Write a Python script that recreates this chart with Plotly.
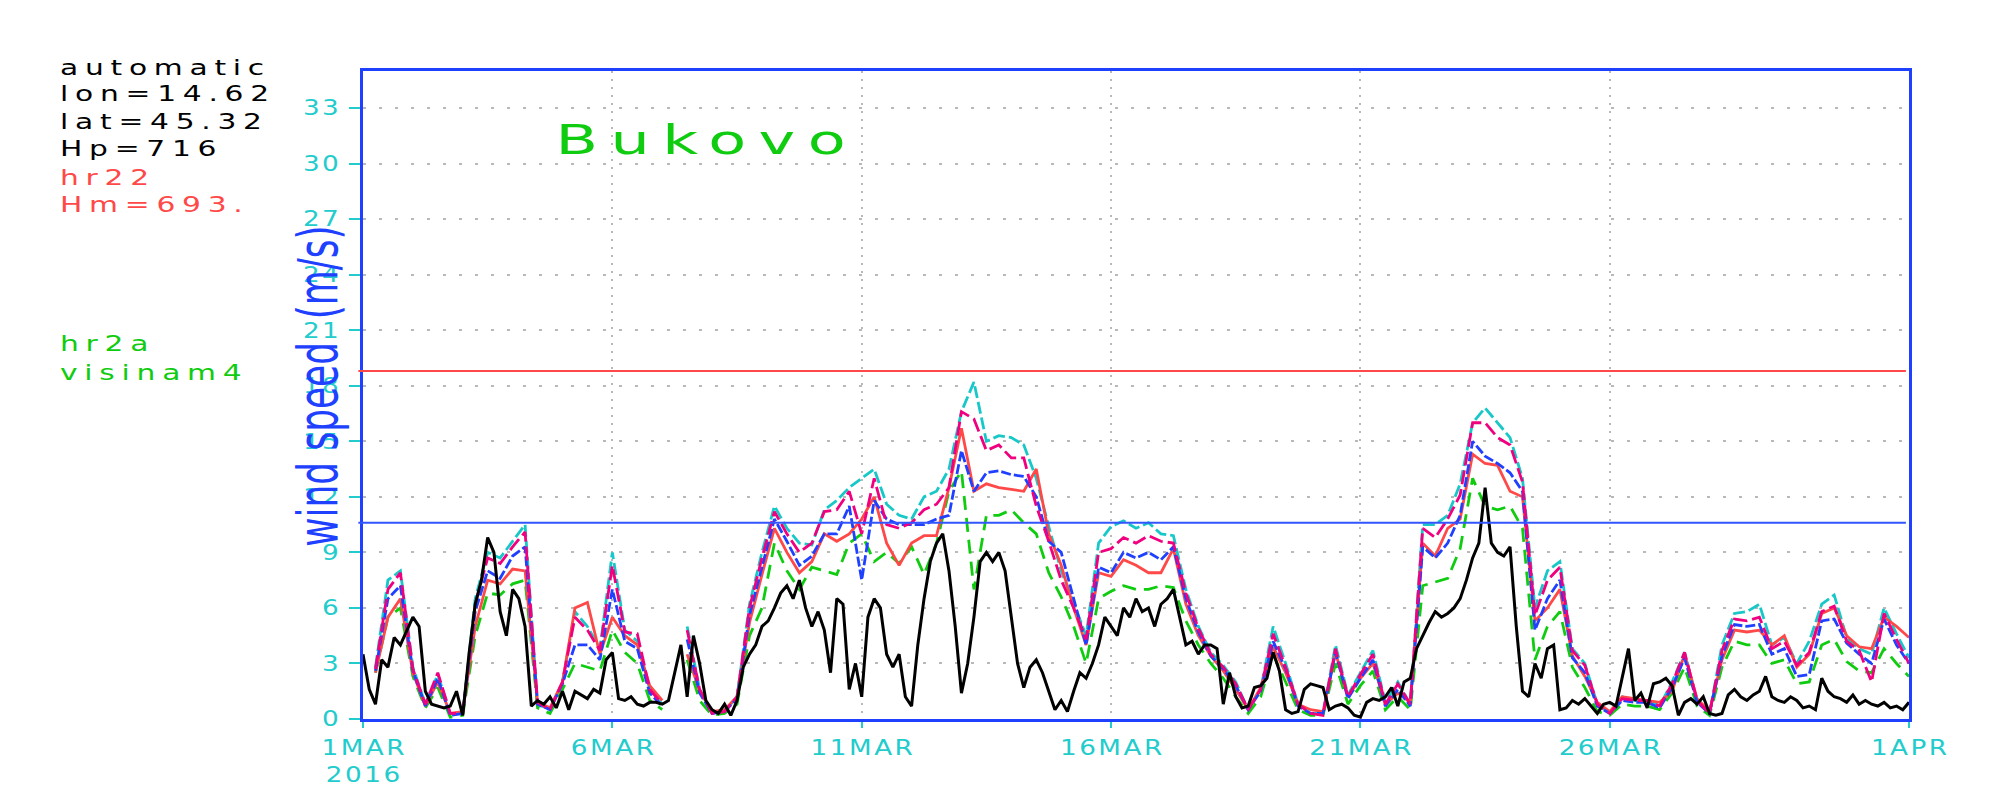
import pandas as pd
import plotly.graph_objects as go

# ---------------- data ----------------
# model series: 6-hourly from 2016-03-01 00:00 (125 points)
model_start = "2016-03-01 00:00"
cyan = [None, 2.8, 7.5, 8.0, 2.8, 0.8, 2.4, 0.3, 0.3, 6.5,
        9.0, 8.7, 9.6, 10.5, 0.8, 0.5, 2.0, 5.8, 5.0, 3.8,
        9.0, 4.8, 4.2, 1.6, 0.8, None, 5.0, 1.6, 0.3, 0.4,
        1.2, 6.2, 9.0, 11.5, 10.3, 9.5, 9.4, 11.3, 11.8, 12.5,
        13.0, 13.5, 11.6, 11.0, 10.8, 12.0, 12.3, 13.5, 16.6, 18.2,
        15.0, 15.3, 15.2, 14.8, 13.0, 10.4, 8.0, 6.2, 4.5, 9.5,
        10.4, 10.7, 10.3, 10.6, 10.0, 9.9, 7.0, 5.0, 3.6, 2.9,
        2.0, 0.5, 1.6, 5.0, 3.0, 0.8, 0.3, 0.3, 4.0, 1.3,
        2.5, 3.7, 0.9, 2.0, 0.8, 10.5, 10.5, 11.0, 12.7, 16.0,
        16.8, 16.0, 15.2, 13.0, 6.0, 8.0, 8.5, 3.8, 3.0, 0.8,
        0.3, 1.2, 1.0, 1.0, 0.7, 2.0, 3.6, 1.0, 0.3, 4.0,
        5.7, 5.8, 6.2, 4.0, 4.4, 3.0, 4.2, 6.2, 6.7, 4.4,
        3.8, 3.5, 6.0, 4.6, 3.3]
pink = [None, 2.7, 7.0, 7.9, 2.7, 0.8, 2.5, 0.3, 0.3, 6.2,
        8.7, 8.4, 9.3, 10.1, 0.9, 0.5, 2.0, 5.5, 4.8, 3.7,
        8.3, 4.7, 4.6, 1.6, 0.8, None, 4.8, 1.6, 0.3, 0.4,
        1.2, 6.0, 8.7, 11.2, 10.0, 9.0, 9.5, 11.2, 11.3, 12.3,
        10.0, 13.0, 10.5, 10.3, 10.6, 11.3, 11.6, 12.5, 16.6, 16.2,
        14.5, 14.8, 14.1, 14.1, 11.5, 9.6, 7.5, 6.0, 4.3, 9.0,
        9.2, 9.8, 9.5, 9.9, 9.6, 9.5, 6.8, 4.9, 3.5, 2.8,
        1.9, 0.5, 1.6, 4.6, 2.8, 0.8, 0.3, 0.2, 3.8, 1.2,
        2.4, 3.5, 0.8, 1.9, 0.8, 10.3, 9.8, 10.8, 12.1, 16.0,
        16.0, 15.2, 14.8, 12.8, 5.6, 7.5, 8.2, 3.7, 2.9, 0.8,
        0.3, 1.1, 1.0, 1.0, 0.7, 1.9, 3.6, 1.0, 0.3, 3.7,
        5.4, 5.3, 5.5, 3.8, 4.2, 2.9, 3.6, 5.8, 6.1, 4.2,
        3.7, 2.0, 5.7, 4.3, 3.0]
blue = [None, 2.6, 6.5, 7.2, 2.6, 0.7, 2.2, 0.2, 0.3, 5.8,
        8.0, 7.6, 8.8, 9.3, 0.8, 0.5, 1.9, 4.0, 4.0, 3.2,
        7.0, 4.2, 3.8, 1.4, 0.7, None, 4.3, 1.4, 0.3, 0.4,
        1.1, 5.6, 8.2, 10.8, 9.6, 8.3, 8.8, 10.0, 10.0, 11.5,
        7.5, 11.8, 10.8, 10.5, 10.5, 10.5, 10.8, 11.0, 14.5, 12.3,
        13.3, 13.4, 13.2, 13.1, 12.0, 9.6, 9.0, 6.5, 4.0, 8.2,
        7.9, 9.0, 8.7, 9.0, 8.6, 9.3, 6.5, 4.7, 3.4, 2.7,
        1.8, 0.5, 1.5, 4.2, 2.7, 0.7, 0.3, 0.3, 3.6, 1.1,
        2.2, 3.2, 0.7, 1.6, 0.7, 9.3, 8.7, 9.5, 11.0, 15.0,
        14.2, 13.8, 13.3, 12.3, 4.8, 6.5, 7.5, 3.3, 2.5, 0.7,
        0.3, 1.0, 0.9, 0.9, 0.6, 1.7, 3.3, 0.9, 0.3, 3.4,
        5.1, 5.0, 5.1, 3.5, 3.8, 2.3, 2.4, 5.3, 5.4, 4.1,
        3.5, 3.0, 5.4, 4.0, 3.0]
red = [None, 2.5, 5.5, 6.5, 2.5, 0.7, 2.0, 0.3, 0.4, 5.0,
       7.5, 7.3, 8.1, 8.0, 0.9, 0.6, 2.0, 6.0, 6.3, 3.5,
       5.5, 4.5, 4.0, 1.8, 1.0, None, 3.5, 1.5, 0.4, 0.5,
       1.2, 5.2, 7.8, 10.3, 9.0, 7.9, 8.5, 10.0, 9.6, 10.0,
       10.8, 12.0, 9.5, 8.3, 9.5, 9.9, 9.9, 12.5, 15.7, 12.3,
       12.7, 12.5, 12.4, 12.3, 13.5, 10.0, 8.3, 6.0, 4.0, 7.9,
       7.7, 8.6, 8.3, 7.9, 7.9, 9.2, 6.2, 4.5, 3.4, 2.6,
       1.6, 0.5, 1.7, 3.9, 2.5, 0.8, 0.5, 0.4, 3.6, 1.2,
       2.2, 3.0, 0.8, 1.4, 0.9, 9.5, 8.8, 10.3, 10.8, 14.3,
       13.8, 13.7, 12.3, 12.0, 5.3, 6.0, 7.0, 3.4, 2.3, 0.9,
       0.4, 1.2, 1.1, 1.0, 0.9, 1.5, 3.5, 1.1, 0.4, 3.2,
       4.8, 4.7, 4.8, 4.0, 4.5, 2.8, 3.5, 5.7, 6.0, 4.5,
       3.9, 3.8, 5.5, 5.0, 4.4]
green = [None, 2.5, 5.5, 6.0, 2.3, 0.6, 1.7, 0.1, 0.2, 4.5,
         6.8, 6.7, 7.3, 7.5, 0.6, 0.3, 1.6, 3.0, 2.8, 2.6,
         4.8, 3.6, 3.0, 1.0, 0.5, None, 3.2, 1.0, 0.2, 0.3,
         0.8, 4.5, 6.0, 9.5, 8.0, 7.0, 8.2, 8.0, 7.8, 9.5,
         10.0, 8.5, 9.0, 8.4, 9.3, 7.8, 9.5, 12.3, 13.4, 7.0,
         11.0, 11.0, 11.3, 10.6, 10.0, 7.9, 6.6, 5.0, 3.0, 6.5,
         6.9, 7.2, 7.0, 7.0, 7.2, 7.1, 5.3, 4.0, 3.0, 2.2,
         1.2, 0.3, 1.2, 3.5, 2.0, 0.5, 0.2, 0.2, 3.0, 0.8,
         1.8, 2.6, 0.5, 1.2, 0.5, 7.2, 7.4, 7.6, 9.2, 13.0,
         11.5, 11.3, 11.5, 10.3, 3.2, 5.0, 5.8, 2.8, 1.7, 0.4,
         0.2, 0.8, 0.7, 0.7, 0.5, 1.4, 2.8, 0.7, 0.2, 2.8,
         4.2, 4.0, 4.0, 3.0, 3.2, 1.9, 2.0, 4.0, 4.3, 3.1,
         2.6, 2.5, 3.8, 3.0, 2.3]

# observations: 3-hourly from 2016-03-01 00:00 (249 points)
obs = [3.5, 1.6, 0.8, 3.2, 2.8, 4.4, 4.0, 4.8,
       5.5, 5.0, 1.5, 0.8, 0.7, 0.6, 0.7, 1.5,
       0.2, 3.5, 6.2, 7.5, 9.8, 9.0, 5.8, 4.5,
       7.0, 6.5, 5.0, 0.7, 1.0, 0.8, 1.2, 0.6,
       1.5, 0.5, 1.5, 1.3, 1.1, 1.6, 1.4, 3.2,
       3.6, 1.1, 1.0, 1.2, 0.8, 0.7, 0.9, 0.9,
       0.8, 1.0, 2.5, 4.0, 1.2, 4.5, 3.0, 1.0,
       0.5, 0.3, 0.8, 0.2, 1.0, 2.8, 3.5, 4.0,
       5.0, 5.3, 6.0, 6.8, 7.2, 6.5, 7.5, 6.0,
       5.0, 5.8, 4.8, 2.5, 6.5, 6.2, 1.6, 3.0,
       1.2, 5.5, 6.5, 6.0, 3.5, 2.8, 3.5, 1.2,
       0.7, 4.0, 6.5, 8.5, 9.5, 10.0, 8.0, 5.0,
       1.4, 3.0, 5.5, 8.5, 9.0, 8.5, 9.0, 8.0,
       5.5, 3.0, 1.7, 2.8, 3.2, 2.5, 1.5, 0.5,
       1.0, 0.4, 1.5, 2.5, 2.2, 3.0, 4.0, 5.5,
       5.0, 4.5, 6.0, 5.5, 6.5, 5.8, 6.0, 5.0,
       6.2, 6.5, 7.0, 5.5, 4.0, 4.2, 3.5, 4.0,
       4.0, 3.8, 0.8, 2.5, 1.2, 0.6, 0.7, 1.7,
       1.8, 2.2, 3.6, 2.6, 0.5, 0.3, 0.4, 1.6,
       1.9, 1.8, 1.7, 0.5, 0.7, 0.8, 0.6, 0.2,
       0.1, 0.9, 1.1, 1.0, 1.2, 1.7, 0.7, 2.0,
       2.2, 3.8, 4.5, 5.2, 5.8, 5.5, 5.7, 6.0,
       6.5, 7.5, 8.7, 9.5, 12.5, 9.5, 9.0, 8.8,
       9.3, 5.0, 1.5, 1.2, 3.0, 2.2, 3.8, 4.0,
       0.5, 0.6, 1.0, 0.8, 1.1, 0.7, 0.3, 0.8,
       0.9, 0.7, 2.2, 3.8, 1.0, 1.4, 0.6, 1.9,
       2.0, 2.2, 1.8, 0.2, 0.9, 1.1, 0.8, 1.2,
       0.3, 0.2, 0.3, 1.3, 1.6, 1.2, 1.0, 1.3,
       1.5, 2.3, 1.2, 1.0, 0.9, 1.2, 1.0, 0.6,
       0.7, 0.5, 2.2, 1.5, 1.2, 1.1, 0.9, 1.3,
       0.8, 1.0, 0.8, 0.7, 0.9, 0.6, 0.7, 0.5,
       0.9]

threshold_red = 18.8
threshold_blue = 10.6

tick_dates = ["2016-03-01", "2016-03-06", "2016-03-11", "2016-03-16",
              "2016-03-21", "2016-03-26", "2016-04-01"]
tick_labels = ["1MAR<br>2016", "6MAR", "11MAR", "16MAR", "21MAR", "26MAR", "1APR"]
y_ticks = list(range(0, 34, 3))

info_black = ["automatic", "lon=14.62", "lat=45.32", "Hp=716"]
info_red = ["hr22", "Hm=693."]
info_green = ["hr2a", "visinam4"]
station = "Bukovo"
y_title = "wind speed  (m/s)"

# ---------------- figure ----------------
t_model = pd.date_range(model_start, periods=len(cyan), freq="6h")
t_obs = pd.date_range(model_start, periods=len(obs), freq="3h")

C_CYAN = "#18c8c8"
C_PINK = "#f0007e"
C_BLUE = "#2040ff"
C_RED = "#ff4848"
C_GREEN = "#10cc10"
C_AXIS = "#2040ff"
C_TICK = "#22cccc"

fig = go.Figure()
series = [
    (cyan, C_CYAN, "12px,4px"),
    (green, C_GREEN, "14px,8px"),
    (red, C_RED, "solid"),
    (blue, C_BLUE, "10px,3px"),
    (pink, C_PINK, "14px,5px"),
]
for vals, col, dash in series:
    fig.add_trace(go.Scatter(x=t_model, y=vals, mode="lines",
                             line=dict(color=col, width=2.8, dash=dash),
                             connectgaps=False, hoverinfo="skip"))
fig.add_trace(go.Scatter(x=t_obs, y=obs, mode="lines",
                         line=dict(color="black", width=3), hoverinfo="skip"))

# page body has an 8px margin; plot area on screen: x 363..1909, y 71..729
W, H = 1992, 792
L, R, T, B = 355, 91, 63, 71
PX0, PX1, PY0, PY1 = 363, 1909, 71, 729


def px2paper(px, py):
    return (px - PX0) / (PX1 - PX0), (PY1 - py) / (PY1 - PY0)


annotations = []
fam = "DejaVu Sans, Verdana, sans-serif"
rows = [(s, "black") for s in info_black] + [(s, "#ff4848") for s in info_red]
ys = [67, 94, 122, 150, 179, 207]
for (s, col), py in zip(rows, ys):
    xp, yp = px2paper(58, py)
    annotations.append(dict(text=s, x=xp, y=yp, xref="paper", yref="paper",
                            xanchor="left", yanchor="middle", showarrow=False,
                            font=dict(family=fam, size=22, color=col)))
for s, py in zip(info_green, [348, 377]):
    xp, yp = px2paper(58, py)
    annotations.append(dict(text=s, x=xp, y=yp, xref="paper", yref="paper",
                            xanchor="left", yanchor="middle", showarrow=False,
                            font=dict(family=fam, size=22, color=C_GREEN)))

xp, yp = px2paper(700, 141)
annotations.append(dict(text=station, x=xp, y=yp, xref="paper", yref="paper",
                        xanchor="center", yanchor="middle", showarrow=False,
                        font=dict(family=fam, size=40, color=C_GREEN)))

xp, yp = px2paper(318, 391)
annotations.append(dict(text=y_title, x=xp, y=yp, xref="paper", yref="paper",
                        xanchor="center", yanchor="middle", showarrow=False,
                        textangle=-90,
                        font=dict(family="Liberation Sans Narrow, DejaVu Sans Condensed, Roboto Condensed, Arial Narrow, sans-serif",
                                  size=38, color=C_AXIS)))

shapes = [
    dict(type="line", xref="paper", yref="y", x0=-0.003, x1=0.998,
         y0=threshold_red, y1=threshold_red, line=dict(color=C_RED, width=2)),
    dict(type="line", xref="paper", yref="y", x0=-0.003, x1=0.998,
         y0=threshold_blue, y1=threshold_blue, line=dict(color="#3355ff", width=2)),
]

fig.update_layout(
    width=W, height=H,
    margin=dict(l=L, r=R, t=T, b=B, pad=0),
    paper_bgcolor="white", plot_bgcolor="white",
    showlegend=False,
    annotations=annotations,
    shapes=shapes,
    xaxis=dict(
        type="date", range=["2016-03-01", "2016-04-01"],
        tickmode="array", tickvals=tick_dates, ticktext=tick_labels,
        tickfont=dict(family=fam, size=21, color=C_TICK),
        ticks="outside", ticklen=6, tickwidth=2, tickcolor=C_TICK,
        showgrid=True, gridcolor="#b8b8b8", gridwidth=1.5, griddash="2px,6px",
        showline=True, linecolor=C_AXIS, linewidth=3, mirror=True,
        zeroline=False, ticklabelstandoff=2,
    ),
    yaxis=dict(
        range=[0, 35], tickmode="array", tickvals=y_ticks,
        ticktext=[str(v) for v in y_ticks],
        tickfont=dict(family=fam, size=21, color=C_TICK),
        ticks="outside", ticklen=11, tickwidth=2, tickcolor=C_TICK,
        showgrid=True, gridcolor="#b8b8b8", gridwidth=1.5, griddash="3px,13px",
        showline=True, linecolor=C_AXIS, linewidth=3, mirror=True,
        zeroline=False, ticklabelstandoff=6,
    ),
)

# widen the lettering to imitate the wide plotting font of the original
post_js = """
var gd = document.getElementById('{plot_id}');
function widen(el, anchor, ls, sx) {
  if (el.getAttribute('data-wid')) return;
  var b0 = el.getBBox();
  el.style.letterSpacing = ls + 'px';
  var b1 = el.getBBox();
  var r0, r1;
  if (anchor === 'left') { r0 = b0.x; r1 = b1.x; }
  else if (anchor === 'right') { r0 = b0.x + b0.width; r1 = b1.x + b1.width - ls; }
  else { r0 = b0.x + b0.width / 2; r1 = b1.x + (b1.width - ls) / 2; }
  var t = el.getAttribute('transform') || '';
  el.setAttribute('transform', t + ' translate(' + r0 + ',0) scale(' + sx + ',1) translate(' + (-r1) + ',0)');
  el.setAttribute('data-wid', '1');
}
function stretch(el, sx, sy) {
  if (el.getAttribute('data-wid')) return;
  var b = el.getBBox();
  var cx = b.x + b.width / 2, cy = b.y + b.height / 2;
  var t = el.getAttribute('transform') || '';
  el.setAttribute('transform', t + ' translate(' + cx + ',' + cy + ') scale(' + sx + ',' + sy + ') translate(' + (-cx) + ',' + (-cy) + ')');
  el.setAttribute('data-wid', '1');
}
function applyAll() {
  if (!gd) return;
  gd.querySelectorAll('.xtick text').forEach(function (el) { widen(el, 'center', 2, 1.25); });
  gd.querySelectorAll('.ytick text').forEach(function (el) { widen(el, 'right', 2, 1.25); });
  gd.querySelectorAll('g.annotation').forEach(function (g) {
    var i = +g.getAttribute('data-index');
    var t = g.querySelector('text.annotation-text');
    if (!t) return;
    if (i < 8) widen(t, 'left', 5, 1.35);
    else if (i === 8) widen(t, 'center', 8, 1.55);
    else if (i === 9) stretch(t, 1.05, 1.45);
  });
}
applyAll();
setTimeout(applyAll, 100);
setTimeout(applyAll, 500);
"""

fig.write_html("out.html", post_script=post_js)
